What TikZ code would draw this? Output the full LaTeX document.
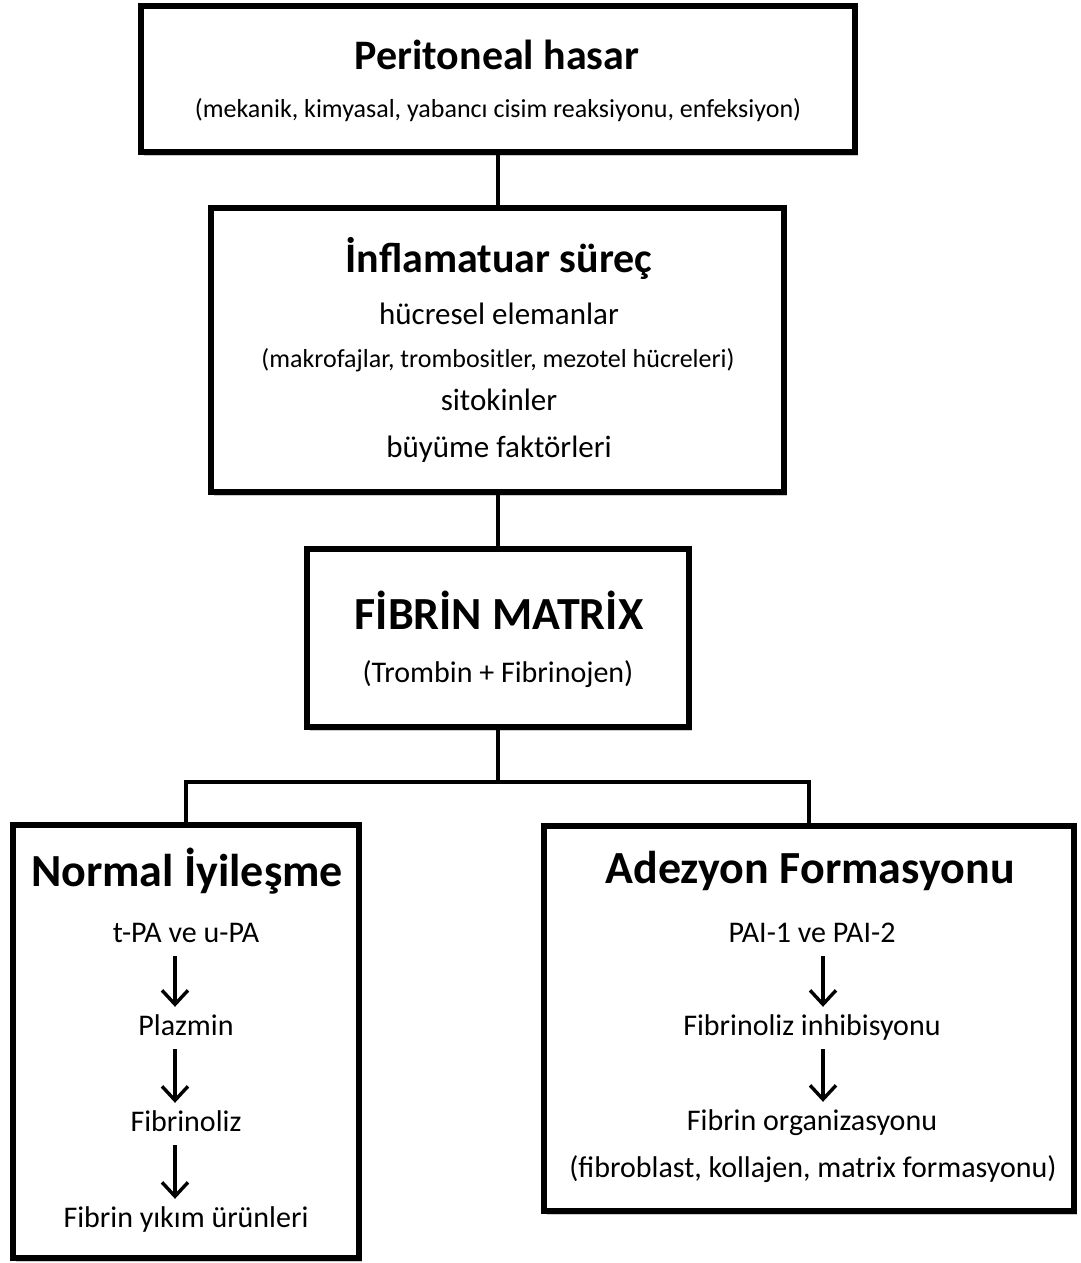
\documentclass[tikz,border=0pt]{standalone}
\usepackage{fontspec}
\setmainfont{Carlito}
\usetikzlibrary{arrows.meta, positioning, shadows}

\begin{document}
\begin{tikzpicture}[x=1pt, y=-1pt,
    box/.style={draw, fill=white, line width=6pt, inner sep=0pt,
        drop shadow={shadow xshift=3pt, shadow yshift=-4pt, fill=black!45, opacity=0.45}},
    link/.style={line width=4pt},
    flow/.style={line width=3.4pt, -{Straight Barb[length=14pt, width=26pt, line width=3.4pt]}},
    heading/.style={font=\bfseries\fontsize{46}{52}\selectfont},
    body/.style={inner sep=8pt, text height=20pt, text depth=6pt, font=\fontsize{30}{36}\selectfont},
    remark/.style={font=\fontsize{26}{31}\selectfont}]
    \useasboundingbox (0,0) rectangle (1081,1263);

    % boxes
    \node[box, minimum width=714pt, minimum height=146pt] (hasar) at (497.5,79) {};
    \node[box, minimum width=573pt, minimum height=284pt] (infl) at (497.5,350) {};
    \node[box, minimum width=382pt, minimum height=178pt] (matrix) at (497.5,638) {};
    \node[box, minimum width=346pt, minimum height=433pt] (normal) at (186,1041.5) {};
    \node[box, minimum width=530pt, minimum height=385pt] (adez) at (809,1018.5) {};

    % connectors
    \coordinate (split) at (497.5,782);
    \draw[link] (hasar.south) -- (infl.north);
    \draw[link] (infl.south) -- (matrix.north);
    \draw[link] (matrix.south) -- (split);
    \draw[link] (split) -| (normal.north);
    \draw[link] (split) -| (adez.north);

    % Peritoneal hasar
    \node[heading, font=\bfseries\fontsize{42}{50}\selectfont] (hasarT) at (497,55) {Peritoneal hasar};
    \node[remark] (hasarN) at (498,110) {(mekanik, kimyasal, yabancı cisim reaksiyonu, enfeksiyon)};

    % inflamatuar surec
    \node[heading, font=\bfseries\fontsize{42}{50}\selectfont] (inflT) at (499,258) {İnflamatuar süreç};
    \node[body, font=\fontsize{31}{36}\selectfont] (hucre) at (499,317) {hücresel elemanlar};
    \node[remark] (hucreN) at (498,360) {(makrofajlar, trombositler, mezotel hücreleri)};
    \node[body, font=\fontsize{31}{36}\selectfont] (sito) at (499,403) {sitokinler};
    \node[body, font=\fontsize{31}{36}\selectfont] (buyume) at (499,450) {büyüme faktörleri};

    % fibrin matrix
    \node[heading] (matrixT) at (499,610) {FİBRİN MATRİX};
    \node[body] (matrixN) at (498,675) {(Trombin + Fibrinojen)};

    % normal iyilesme
    \node[heading] (normalT) at (187,871) {Normal İyileşme};
    \node[body] (tpa) at (186,935) {t-PA ve u-PA};
    \node[body] (plaz) at (186,1028) {Plazmin};
    \node[body] (fliz) at (186,1124) {Fibrinoliz};
    \node[body] (yikim) at (186,1220) {Fibrin yıkım ürünleri};
    \draw[flow] ([xshift=-11pt]tpa.south) -- ([xshift=-11pt]plaz.north);
    \draw[flow] ([xshift=-11pt]plaz.south) -- ([xshift=-11pt]fliz.north);
    \draw[flow] ([xshift=-11pt]fliz.south) -- ([xshift=-11pt]yikim.north);

    % adezyon formasyonu
    \node[heading] (adezT) at (810,871) {Adezyon Formasyonu};
    \node[body] (pai) at (812,935) {PAI-1 ve PAI-2};
    \node[body] (inhib) at (812,1028) {Fibrinoliz inhibisyonu};
    \node[body] (organ) at (812,1123) {Fibrin organizasyonu};
    \node[body] (organN) at (813,1170) {(fibroblast, kollajen, matrix formasyonu)};
    \draw[flow] ([xshift=11pt]pai.south) -- ([xshift=11pt]inhib.north);
    \draw[flow] ([xshift=11pt]inhib.south) -- ([xshift=11pt]organ.north);
\end{tikzpicture}
\end{document}
